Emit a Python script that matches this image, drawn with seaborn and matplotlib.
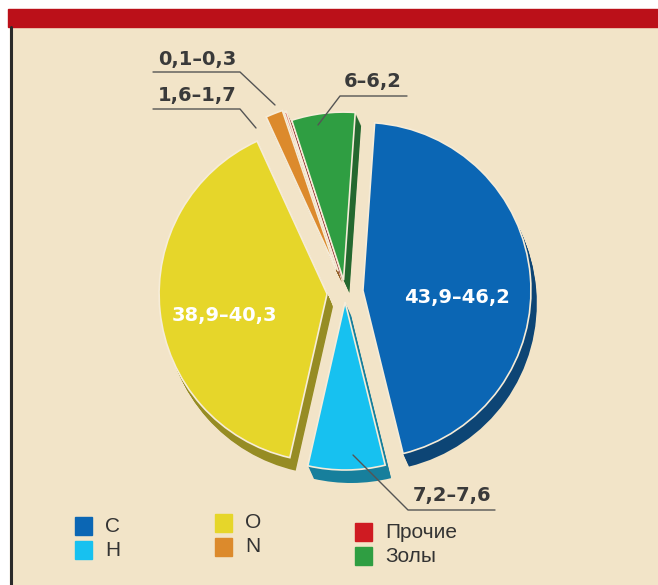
import matplotlib
matplotlib.use('Agg')
import matplotlib.pyplot as plt
import matplotlib.patches as mpatches
import seaborn as sns

# composition, % (middle of each range)
elements = ['C', 'H', 'O', 'N', 'Прочие', 'Золы']
shares = [45.05, 7.4, 39.6, 1.65, 0.2, 6.1]
range_labels = ['43,9–46,2', '7,2–7,6', '38,9–40,3', '1,6–1,7', '0,1–0,3', '6–6,2']
colors = ['#0b66b4', '#17c1f0', '#e6d62a', '#dc8a2c', '#cf1b22', '#2f9e42']
explode = [18, 10, 18, 24, 22, 12]

sns.set_style('white')
plt.rcParams['font.family'] = ['DejaVu Sans']

W, H = 658, 585
fig = plt.figure(figsize=(W / 100, H / 100), dpi=100)
fig.patch.set_facecolor('white')
ax = fig.add_axes([0, 0, 1, 1])


def Y(y):
    return H - y


# panel background, red top bar, left border
ax.add_patch(mpatches.Rectangle((10, Y(585)), 648, 558, color='#f2e4c8', zorder=0))
ax.add_patch(mpatches.Rectangle((8, Y(27)), 650, 18, color='#bb1019', zorder=1))
ax.plot([10.5, 10.5], [Y(27), Y(585)], color='#2a2a2a', lw=2.2, zorder=1)

cx, cy, R = 345, Y(292), 168
dark = [sns.desaturate(c, 0.9) for c in colors]
dark = [tuple(v * 0.68 for v in matplotlib.colors.to_rgb(c)) for c in dark]

# extruded side for a 3D look
for k in range(13, 0, -1):
    ax.pie(shares, explode=explode, colors=dark, startangle=86, counterclock=False,
           radius=R, center=(cx + k * 0.45, cy - k), frame=True,
           wedgeprops=dict(linewidth=0))

wedges, _ = ax.pie(shares, explode=explode, colors=colors, startangle=86,
                   counterclock=False, radius=R, center=(cx, cy), frame=True,
                   wedgeprops=dict(edgecolor='#f6ecd8', linewidth=1.2))

# labels inside big slices
ax.text(457, Y(297), range_labels[0], color='white', fontsize=14, fontweight='bold',
        ha='center', va='center')
ax.text(224, Y(315), range_labels[2], color='white', fontsize=14, fontweight='bold',
        ha='center', va='center')

# outside labels with leader lines
lc = '#555555'
outside = [
    (range_labels[4], 197, 59, [(153, 72), (240, 72), (275, 105)]),
    (range_labels[3], 197, 96, [(153, 109), (240, 109), (256, 128)]),
    (range_labels[5], 373, 82, [(407, 96), (340, 96), (318, 125)]),
    (range_labels[1], 452, 495, [(495, 510), (408, 510), (353, 455)]),
]
for txt, tx, ty, pts in outside:
    ax.text(tx, Y(ty), txt, color='#3a3a3a', fontsize=14, fontweight='bold',
            ha='center', va='center')
    ax.plot([p[0] for p in pts], [Y(p[1]) for p in pts], color=lc, lw=1, zorder=5)

# legend (three columns)
legend_pos = [(75, 517), (75, 541), (215, 514), (215, 538), (355, 523), (355, 547)]
for (lx, ly), name, col in zip(legend_pos, elements, colors):
    ax.add_patch(mpatches.Rectangle((lx, Y(ly + 18)), 17, 18, color=col, zorder=3))
    ax.text(lx + 30, Y(ly + 9), name, fontsize=15, color='#333333',
            family='Liberation Sans', ha='left', va='center')

ax.set_xlim(0, W)
ax.set_ylim(0, H)
ax.set_aspect('auto')
ax.axis('off')

fig.savefig('out.png', dpi=100, facecolor='white')
